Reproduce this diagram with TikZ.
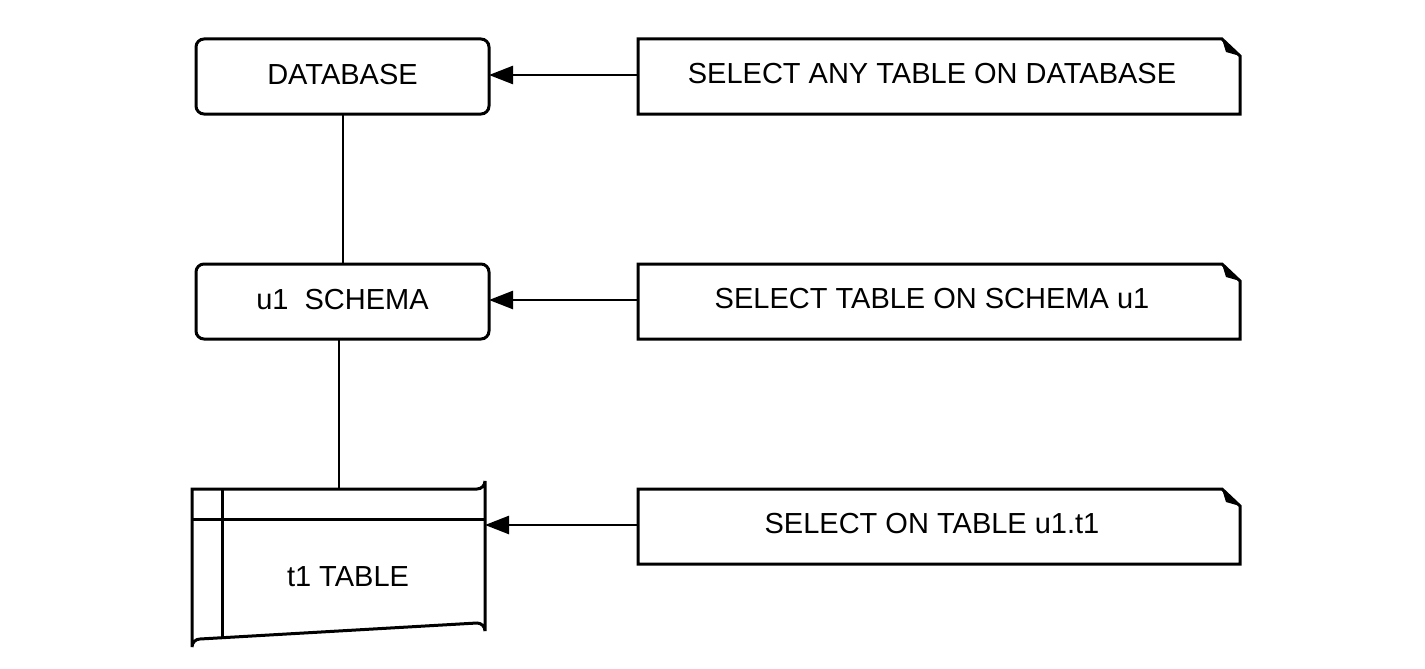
\documentclass[tikz,border=0pt]{standalone}
\usepackage{fontspec}
\setmainfont{Liberation Sans}
\usetikzlibrary{arrows.meta}
\begin{document}
\begin{tikzpicture}[x=1pt,y=-1pt,line width=3pt,
  txt/.style={font=\fontsize{29}{34}\selectfont,inner sep=0pt},
  arr/.style={-{Triangle[length=24pt,width=18pt]},line width=2.5pt}]
\useasboundingbox (0,0) rectangle (1425,669);
% boxes
\draw[rounded corners=8pt] (196,39) rectangle (489,114);
\node[txt] (db) at (342.5,75) {DATABASE};
\coordinate (dbR) at (489,75); \coordinate (dbB) at (343,114);
\draw[rounded corners=8pt] (196,264) rectangle (489,339);
\node[txt] (sc) at (342.5,300) {u1\ \ SCHEMA};
\coordinate (scR) at (489,300); \coordinate (scT) at (343,264); \coordinate (scB) at (339,339);
% table
\draw (192,489) -- (477,489) arc(90:0:8) -- (485,631) arc(0:-90:8) -- (200,639) arc(270:180:8) -- cycle;
\draw (192,519) -- (485,519);
\draw (222,489) -- (222,639);
\node[txt] (tb) at (348,577) {t1 TABLE};
\coordinate (tbR) at (485,525); \coordinate (tbT) at (339,489);
% notes
\foreach \y/\t/\n/\xx in {39/SELECT ANY TABLE ON DATABASE/n1/932, 264/SELECT TABLE ON SCHEMA u1/n2/932, 489/SELECT ON TABLE u1.t1/n3/932}{
  \draw (638,\y) -- (1222,\y) -- (1240,\y+17) -- (1240,\y+75) -- (638,\y+75) -- cycle;
  \fill (1222,\y) -- (1240,\y+17) -- (1226,\y+13) -- cycle;
  \node[txt] (\n) at (\xx,\y+35) {\t};
}
\coordinate (n1L) at (638,75); \coordinate (n2L) at (638,300); \coordinate (n3L) at (638,525);
\draw[arr] (n1L) -- (dbR);
\draw[arr] (n2L) -- (scR);
\draw[arr] (n3L) -- (tbR);
\draw[line width=2.5pt] (dbB) -- (scT);
\draw[line width=2.5pt] (scB) -- (tbT);
\end{tikzpicture}
\end{document}
